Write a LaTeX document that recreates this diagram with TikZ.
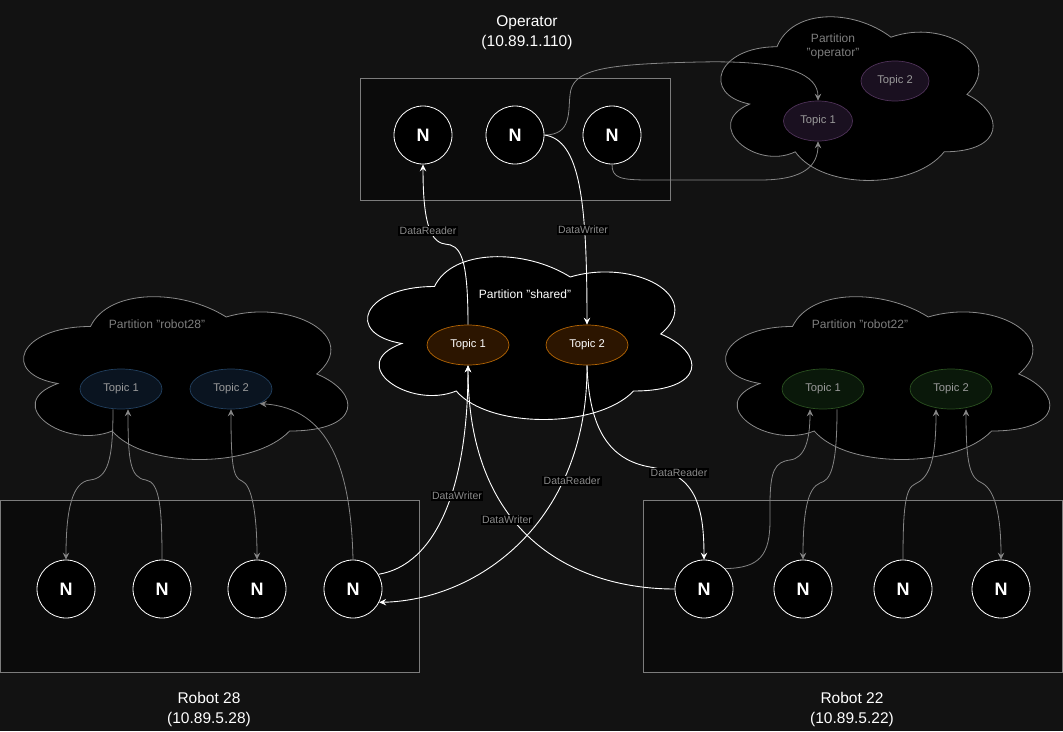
\documentclass[tikz,border=0pt]{standalone}
\usepackage{fontspec}
\setmainfont{Liberation Sans}
\usetikzlibrary{shapes.geometric,arrows.meta,calc}
\definecolor{bgc}{HTML}{121212}
\definecolor{boxfill}{HTML}{0B0B0B}
\definecolor{boxline}{HTML}{7C7C7C}
\definecolor{cloudline}{HTML}{8A8A8A}
\definecolor{edgegray}{HTML}{858585}
\definecolor{dimtext}{HTML}{7E7E7E}
\definecolor{topictext}{HTML}{9A9A9A}
\definecolor{lbltext}{HTML}{8A8A8A}
\definecolor{purfill}{HTML}{1A1020}
\definecolor{purline}{HTML}{4E3258}
\definecolor{orfill}{HTML}{2C1500}
\definecolor{orline}{HTML}{B46504}
\definecolor{blfill}{HTML}{0A1420}
\definecolor{blline}{HTML}{22405F}
\definecolor{grfill}{HTML}{0A180A}
\definecolor{grline}{HTML}{2A5020}
\newcommand{\drawcloud}[5]{%
\begin{scope}[shift={(#2,#3)}, x=#4pt, y=-#5pt]
\path[#1] (0.25,0.25) .. controls (0.05,0.25) and (0,0.5) .. (0.16,0.55)
 .. controls (0,0.66) and (0.18,0.9) .. (0.31,0.8)
 .. controls (0.4,1) and (0.7,1) .. (0.8,0.8)
 .. controls (1,0.8) and (1,0.6) .. (0.875,0.5)
 .. controls (1,0.3) and (0.8,0.1) .. (0.625,0.2)
 .. controls (0.5,0.05) and (0.3,0.05) .. (0.25,0.25) -- cycle;
\end{scope}}
\begin{document}
\begin{tikzpicture}[x=1pt,y=-1pt,
  >={Stealth[length=7pt,width=6.5pt,inset=2.5pt]},
  hostbox/.style={draw=boxline, fill=boxfill, line width=0.8pt, inner sep=0pt},
  nnode/.style={circle, draw=white, fill=black, minimum size=58pt, inner sep=0pt, line width=0.8pt, text=white, font=\fontsize{18}{20}\selectfont\bfseries},
  topic/.style={ellipse, minimum width=82pt, minimum height=40pt, inner sep=0pt, line width=0.7pt, text=topictext, font=\fontsize{11.2}{13}\selectfont},
  gedge/.style={draw=edgegray, line width=0.8pt, ->},
  gboth/.style={draw=edgegray, line width=0.8pt, <->},
  wedge/.style={draw=white, line width=0.9pt, ->},
  lbl/.style={fill=black, text=lbltext, inner sep=1.2pt, font=\fontsize{10.5}{12}\selectfont},
  hosttext/.style={text=white, align=center, font=\fontsize{15.5}{20}\selectfont},
  parttext/.style={text=dimtext, align=center, font=\fontsize{12}{14}\selectfont},
  dimcloud/.style={draw=cloudline, fill=black, line width=0.8pt},
  brightcloud/.style={draw=white, fill=black, line width=0.9pt}
]
\fill[bgc] (0,0) rectangle (1063,731);
\useasboundingbox (0,0) rectangle (1063,731);

% host boxes
\node[hostbox, minimum width=310pt, minimum height=122pt] (opbox) at (515,139) {};
\node[hostbox, minimum width=418.5pt, minimum height=172pt] (r28box) at (209.75,586) {};
\node[hostbox, minimum width=419pt, minimum height=172pt] (r22box) at (852.5,586) {};

% clouds
\drawcloud{dimcloud}{701}{-1}{304}{191}
\drawcloud{brightcloud}{344}{239}{362}{190}
\drawcloud{dimcloud}{0}{279}{362}{190}
\drawcloud{dimcloud}{702}{279}{362}{190}

% partition labels
\node[parttext] (opPart) at (833,46) {Partition\\"operator"};
\node[parttext, text=white] (shPart) at (525,294) {Partition "shared"};
\node[parttext] (r28Part) at (157,324) {Partition "robot28"};
\node[parttext] (r22Part) at (860,324) {Partition "robot22"};

% topics
\node[topic, fill=purfill, draw=purline, minimum width=69pt] (ot1) at (818,121) {Topic 1};
\node[topic, fill=purfill, draw=purline, minimum width=68pt] (ot2) at (895,81) {Topic 2};
\node[topic, fill=orfill, draw=orline, text=white] (st1) at (468,345) {Topic 1};
\node[topic, fill=orfill, draw=orline, text=white] (st2) at (587,345) {Topic 2};
\node[topic, fill=blfill, draw=blline] (r28t1) at (121,389) {Topic 1};
\node[topic, fill=blfill, draw=blline] (r28t2) at (231,389) {Topic 2};
\node[topic, fill=grfill, draw=grline] (r22t1) at (823,389) {Topic 1};
\node[topic, fill=grfill, draw=grline] (r22t2) at (951,389) {Topic 2};

% N nodes
\node[nnode] (o1) at (423,135) {N};
\node[nnode] (o2) at (515,135) {N};
\node[nnode] (o3) at (612,135) {N};
\node[nnode] (r28n1) at (66,589) {N};
\node[nnode] (r28n2) at (162,589) {N};
\node[nnode] (r28n3) at (257,589) {N};
\node[nnode] (r28n4) at (353,589) {N};
\node[nnode] (r22n1) at (704,589) {N};
\node[nnode] (r22n2) at (803,589) {N};
\node[nnode] (r22n3) at (903,589) {N};
\node[nnode] (r22n4) at (1001,589) {N};

% operator edges
\draw[gedge] (o2.east) .. controls (572,135) and (568,112) .. (570,95)
  .. controls (572,70) and (600,64) .. (700,62)
  .. controls (790,60) and (818,75) .. (ot1.north);
\draw[gedge] (o3.south) .. controls (612,178) and (620,180) .. (650,180)
  -- (760,180) .. controls (805,180) and (818,165) .. (ot1.south);
\draw[wedge] (o2.east) .. controls (580,140) and (587,200) .. (st2.north);
\draw[wedge] (st1.north) .. controls (468,255) and (460,245) .. (445,244)
  .. controls (428,242) and (423,215) .. (o1.south);

% robot 28 edges
\draw[gedge] ($(r28t1.south)+(-8,0)$) .. controls (113,460) and (108,478) .. (90,480)
  .. controls (72,482) and (66,510) .. (r28n1.north);
\draw[gedge] (r28n2.north) .. controls (162,510) and (160,482) .. (146,480)
  .. controls (130,478) and (128,460) .. ($(r28t1.south)+(7,0)$);
\draw[gboth] (r28t2.south) .. controls (231,465) and (233,478) .. (242,481)
  .. controls (252,485) and (257,515) .. (r28n3.north);
\draw[gedge] (r28n4.north) .. controls (351,470) and (330,408) .. (r28t2.-27);

% robot 22 edges
\draw[gedge] (r22n1.44) .. controls (760,568) and (770,555) .. (770,520)
  -- (770,505) .. controls (770,470) and (775,462) .. (790,460)
  .. controls (805,458) and (810,440) .. ($(r22t1.south)+(-13,0)$);
\draw[gedge] ($(r22t1.south)+(14,0)$) .. controls (837,470) and (830,480) .. (820,483)
  .. controls (808,488) and (803,510) .. (r22n2.north);
\draw[gedge] (r22n3.north) .. controls (903,510) and (905,488) .. (915,484)
  .. controls (928,478) and (936,465) .. ($(r22t2.south)+(-15,0)$);
\draw[gboth] ($(r22t2.south)+(15,0)$) .. controls (966,465) and (970,478) .. (982,483)
  .. controls (995,490) and (1001,515) .. (r22n4.north);

% cross edges
\draw[wedge] (r28n4.30) .. controls (435,565) and (468,490) .. (st1.south);
\draw[wedge] (r22n1.west) .. controls (580,589) and (468,540) .. (st1.south);
\draw[wedge] (st2.south) .. controls (588,520) and (480,600) .. (r28n4.-27);
\draw[wedge] (st2.south) .. controls (589,430) and (610,460) .. (650,467)
  .. controls (695,474) and (704,505) .. (r22n1.north);

% edge labels
\node[lbl] (lblOR) at (428,231) {DataReader};
\node[lbl] (lblOW) at (583,230) {DataWriter};
\node[lbl] (lblW28) at (457,496) {DataWriter};
\node[lbl] (lblW22) at (507,520) {DataWriter};
\node[lbl] (lblR28) at (572,481) {DataReader};
\node[lbl] (lblR22) at (679,473) {DataReader};

% host labels
\node[hosttext] (opText) at (527,33) {Operator\\(10.89.1.110)};
\node[hosttext] (r28Text) at (209,709) {Robot 28\\(10.89.5.28)};
\node[hosttext] (r22Text) at (852,709) {Robot 22\\(10.89.5.22)};
\end{tikzpicture}
\end{document}
